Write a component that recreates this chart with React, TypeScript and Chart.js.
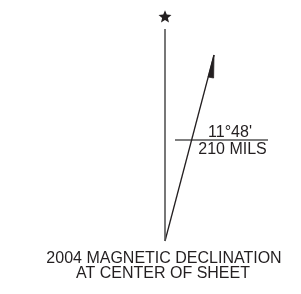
import React, { useEffect, useRef } from "react";
import { Chart, registerables } from "chart.js";

Chart.register(...registerables);

// Diagram geometry (in diagram units; origin at the base of the lines)
const trueNorthLine = [
  { x: 0, y: 0 },
  { x: 0, y: 212 },
];
const starPoint = [{ x: 0, y: 224 }];
const magneticLine = [
  { x: 0, y: 0 },
  { x: 49, y: 186 },
];
const arrowHead = [
  { x: 49, y: 186 },
  { x: 43.2, y: 164 },
  { x: 48.6, y: 163 },
  { x: 49, y: 186 },
];
const dividerLine = [
  { x: 10, y: 101 },
  { x: 103, y: 101 },
];
const angleLabel = "11°48'";
const milsLabel = "210 MILS";
const labelAnchor = { x: 65, y: 101 };
const captionLines = ["2004 MAGNETIC DECLINATION", "AT CENTER OF SHEET"];

const textPlugin = {
  id: "declText",
  afterDraw(chart: any) {
    const { ctx, scales } = chart;
    const xs = scales.x;
    const ys = scales.y;
    const px = xs.getPixelForValue(labelAnchor.x);
    const py = ys.getPixelForValue(labelAnchor.y);
    ctx.save();
    ctx.fillStyle = "#231f20";
    ctx.textAlign = "center";
    ctx.font = "16px 'Liberation Sans', Arial, sans-serif";
    ctx.textBaseline = "alphabetic";
    ctx.fillText(angleLabel, px, py - 3);
    ctx.fillText(milsLabel, px + 2.5, py + 14);
    ctx.font = "16px 'Liberation Sans', Arial, sans-serif";
    const cx = xs.getPixelForValue(0) - 1;
    const by = ys.getPixelForValue(0);
    ctx.fillText(captionLines[0], cx, by + 22);
    ctx.fillText(captionLines[1], cx - 1, by + 37);
    ctx.restore();
  },
};

export default function App() {
  const ref = useRef<HTMLCanvasElement>(null);
  useEffect(() => {
    document.body.style.margin = "0";
    const c = ref.current!;
    const chart = new Chart(c, {
      type: "scatter",
      data: {
        datasets: [
          {
            data: trueNorthLine,
            showLine: true,
            borderColor: "#555",
            borderWidth: 1.6,
            pointRadius: 0,
          },
          {
            data: magneticLine,
            showLine: true,
            borderColor: "#231f20",
            borderWidth: 1.3,
            pointRadius: 0,
          },
          {
            data: arrowHead,
            showLine: true,
            borderColor: "#231f20",
            backgroundColor: "#231f20",
            borderWidth: 0.8,
            fill: "shape",
            pointRadius: 0,
          } as any,
          {
            data: dividerLine,
            showLine: true,
            borderColor: "#555",
            borderWidth: 1.3,
            pointRadius: 0,
          },
          {
            data: starPoint,
            pointStyle: "star",
            pointRadius: 0,
          },
        ],
      },
      options: {
        animation: false,
        responsive: false,
        events: [],
        layout: { padding: 0 },
        plugins: { legend: { display: false }, tooltip: { enabled: false } },
        scales: {
          x: { type: "linear", min: -165, max: 136, display: false },
          y: { type: "linear", min: -53, max: 241, display: false },
        },
      },
      plugins: [
        textPlugin,
        {
          id: "star",
          afterDatasetsDraw(chart: any) {
            const { ctx, scales } = chart;
            const cx = scales.x.getPixelForValue(starPoint[0].x);
            const cy = scales.y.getPixelForValue(starPoint[0].y);
            const R = 6.8;
            const r = 3;
            ctx.save();
            ctx.beginPath();
            for (let i = 0; i < 10; i++) {
              const rad = i % 2 === 0 ? R : r;
              const a = -Math.PI / 2 + (i * Math.PI) / 5;
              const x = cx + rad * Math.cos(a);
              const y = cy + rad * Math.sin(a);
              if (i === 0) ctx.moveTo(x, y);
              else ctx.lineTo(x, y);
            }
            ctx.closePath();
            ctx.fillStyle = "#231f20";
            ctx.fill();
            ctx.restore();
          },
        },
      ],
    });
    return () => chart.destroy();
  }, []);
  return <canvas ref={ref} width={301} height={294} style={{ display: "block" }} />;
}
